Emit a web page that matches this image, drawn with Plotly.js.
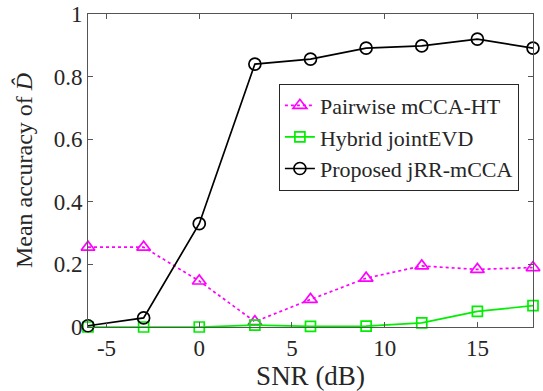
<!DOCTYPE html>
<html>
<head>
<meta charset="utf-8">
<script src="https://cdn.plot.ly/plotly-3.0.1.min.js"></script>
<style>
html,body{margin:0;padding:0;background:#fff;}
#chart{width:543px;height:391px;}
</style>
</head>
<body>
<div id="chart"></div>
<script>
// Data
const snr = [-6, -3, 0, 3, 6, 9, 12, 15, 18];
const pairwise = [0.255, 0.255, 0.147, 0.017, 0.088, 0.156, 0.195, 0.184, 0.19];
const hybrid = [0.0, 0.0, 0.0, 0.006, 0.002, 0.003, 0.013, 0.05, 0.068];
const proposed = [0.004, 0.029, 0.33, 0.84, 0.856, 0.891, 0.898, 0.92, 0.891];
const seriesNames = ["Pairwise mCCA-HT", "Hybrid jointEVD", "Proposed jRR-mCCA"];
const xTicks = [-5, 0, 5, 10, 15];
const xTickText = ["-5", "0", "5", "10", "15"];
const yTicks = [0, 0.2, 0.4, 0.6, 0.8, 1];
const yTickText = ["0", "0.2", "0.4", "0.6", "0.8", "1"];

const serif = "Liberation Serif";
const axisColor = "#555555";
const textColor = "#262626";

const traces = [
  {x: snr, y: pairwise, name: seriesNames[0], type: "scatter", mode: "lines+markers", cliponaxis: false,
   line: {color: "#ff00ff", width: 1.7, dash: "dot"},
   marker: {symbol: "triangle-up-open", size: 12, color: "#ff00ff", line: {width: 1.7, color: "#ff00ff"}}},
  {x: snr, y: hybrid, name: seriesNames[1], type: "scatter", mode: "lines+markers", cliponaxis: false,
   line: {color: "#00ee00", width: 1.7},
   marker: {symbol: "square-open", size: 10, color: "#00ee00", line: {width: 1.7, color: "#00ee00"}}},
  {x: snr, y: proposed, name: seriesNames[2], type: "scatter", mode: "lines+markers", cliponaxis: false,
   line: {color: "#000000", width: 1.7},
   marker: {symbol: "circle-open", size: 12, color: "#000000", line: {width: 1.7, color: "#000000"}}}
];

const layout = {
  width: 543, height: 391,
  margin: {l: 88, r: 10, t: 14, b: 64},
  paper_bgcolor: "#ffffff", plot_bgcolor: "#ffffff",
  font: {family: serif, size: 22, color: textColor},
  showlegend: true,
  legend: {x: 0.429, y: 0.607, xanchor: "left", yanchor: "middle",
    bgcolor: "#ffffff", bordercolor: "#262626", borderwidth: 1,
    font: {family: serif, size: 22, color: textColor},
    tracegroupgap: 0, itemwidth: 30},
  xaxis: {range: [-6, 18], tickvals: xTicks, ticktext: xTickText, ticks: "inside", ticklen: 5, tickcolor: axisColor,
    showline: true, linecolor: axisColor, linewidth: 1, mirror: "ticks", showgrid: false, zeroline: false,
    tickfont: {family: serif, size: 23, color: textColor},
    title: {text: "SNR (dB)", font: {family: serif, size: 27, color: textColor}, standoff: 0}},
  yaxis: {range: [0, 1], tickvals: yTicks, ticktext: yTickText, ticks: "inside", ticklen: 5, tickcolor: axisColor,
    showline: true, linecolor: axisColor, linewidth: 1, mirror: "ticks", showgrid: false, zeroline: false,
    tickfont: {family: serif, size: 23, color: textColor},
    title: {text: "Mean accuracy of <i>D\u0302</i>", font: {family: serif, size: 24, color: textColor}, standoff: 14}}
};

Plotly.newPlot("chart", traces, layout, {displayModeBar: false, staticPlot: true});
</script>
</body>
</html>
